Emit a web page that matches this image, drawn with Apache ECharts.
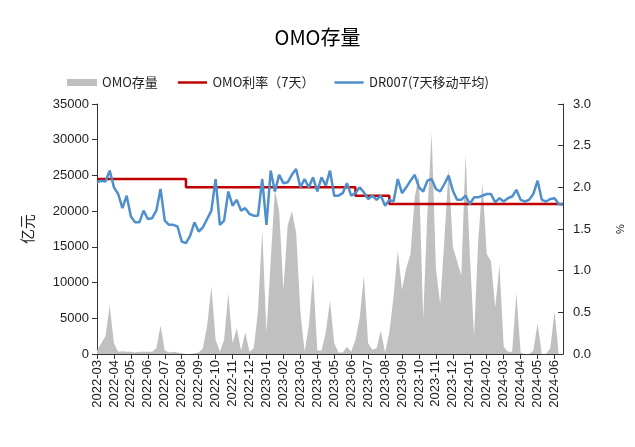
<!DOCTYPE html>
<html>
<head>
<meta charset="utf-8">
<script src="https://cdn.jsdelivr.net/npm/echarts@6/dist/echarts.min.js"></script>
<style>
  html, body { margin: 0; padding: 0; background: #fff; }
  #chart { width: 635px; height: 447px; }
</style>
</head>
<body>
<div id="chart"></div>
<script>
// 月份刻度标签（每月4个点，最后一个月只到月中）
const months = ['2022-03', '2022-04', '2022-05', '2022-06', '2022-07', '2022-08', '2022-09',
  '2022-10', '2022-11', '2022-12', '2023-01', '2023-02', '2023-03', '2023-04', '2023-05',
  '2023-06', '2023-07', '2023-08', '2023-09', '2023-10', '2023-11', '2023-12', '2024-01',
  '2024-02', '2024-03', '2024-04', '2024-05', '2024-06'];

// OMO存量（亿元）
const omoStock = [
  500, 1500, 2500, 6800, 1500, 300, 400, 300,
  300, 200, 300, 300, 300, 300, 800, 4000,
  500, 200, 300, 200, 100, 0, 0, 100,
  200, 800, 4000, 9500, 2000, 300, 2000, 8500,
  1500, 3600, 500, 3000, 300, 800, 6000, 17400,
  3000, 13000, 23000, 20000, 9000, 18000, 20000, 17000,
  6000, 300, 4000, 11300, 500, 500, 3000, 7500,
  1500, 200, 200, 1000, 300, 2000, 5000, 11000,
  1500, 600, 800, 3300, 200, 3000, 8000, 14500,
  9000, 12000, 14000, 22000, 25000, 5000, 20000, 31000,
  12000, 7000, 16000, 26000, 15000, 13000, 11000, 28000,
  14000, 2500, 16000, 24000, 14000, 13000, 6500, 12500,
  1000, 300, 300, 8500, 200, 0, 0, 500,
  4300, 0, 0, 800, 6000, 0, 0
];

// DR007 7天移动平均（%）
const dr007 = [
  2.06, 2.08, 2.07, 2.2, 2.0, 1.92, 1.75, 1.9,
  1.65, 1.58, 1.58, 1.72, 1.62, 1.63, 1.72, 1.98,
  1.6, 1.55, 1.55, 1.53, 1.35, 1.33, 1.42, 1.58,
  1.47, 1.52, 1.62, 1.72, 2.1, 1.55, 1.6, 1.95,
  1.78, 1.85, 1.72, 1.75, 1.68, 1.66, 1.66, 2.1,
  1.55, 2.2, 1.95, 2.15, 2.05, 2.06, 2.15, 2.22,
  2.0, 2.1, 2.0, 2.12, 1.95, 2.12, 2.02, 2.2,
  1.9, 1.9, 1.93, 2.05, 1.9, 1.93, 2.0, 1.94,
  1.86, 1.9, 1.85, 1.9, 1.78, 1.85, 1.83, 2.1,
  1.93, 2.0, 2.08, 2.15, 2.0, 1.95, 2.08, 2.1,
  1.98, 1.95, 2.04, 2.14, 1.96, 1.85, 1.85, 1.9,
  1.8, 1.88, 1.88, 1.9, 1.92, 1.92, 1.82, 1.87,
  1.83, 1.87, 1.89, 1.97, 1.85, 1.83, 1.85, 1.92,
  2.08, 1.85, 1.83, 1.86, 1.87, 1.8, 1.79
];

// OMO利率（7天）：[起始点序号, 利率]
const omoRateSteps = [[0, 2.1], [21, 2.0], [61, 1.9], [69, 1.8]];

const cats = [];
months.forEach((m, mi) => {
  const n = mi === months.length - 1 ? 3 : 4;
  for (let k = 0; k < n; k++) cats.push(m + '|' + k);
});

const omoRate = cats.map((c, i) => {
  let v = omoRateSteps[0][1];
  omoRateSteps.forEach(s => { if (i >= s[0]) v = s[1]; });
  return v;
});

// 图例里的线段图标（上下加极细边界，保持线宽）
const lineIcon = 'path://M0,0h30v0.01h-30z M0,2.4h30v2.4h-30z M0,7.19h30v0.01h-30z';

const chart = echarts.init(document.getElementById('chart'));

const option = {
  animation: false,
  textStyle: { fontFamily: '"Liberation Sans", "Noto Sans CJK SC", sans-serif' },
  title: {
    text: 'OMO存量',
    left: 'center',
    top: 22,
    textStyle: { fontSize: 20, fontWeight: 'normal', color: '#000', fontFamily: '"Noto Sans CJK SC", sans-serif' }
  },
  legend: {
    top: 71,
    left: 62,
    itemWidth: 30,
    itemHeight: 7,
    itemGap: 20,
    textStyle: { fontSize: 13, color: '#222', fontFamily: '"Noto Sans CJK SC", sans-serif' },
    data: [
      { name: 'OMO存量', icon: 'rect' },
      { name: 'OMO利率（7天）', icon: lineIcon },
      { name: 'DR007(7天移动平均)', icon: lineIcon }
    ]
  },
  grid: { left: 97, right: 72, top: 104, bottom: 93 },
  xAxis: {
    type: 'category',
    data: cats,
    boundaryGap: false,
    axisLine: { lineStyle: { color: '#333', width: 1 } },
    axisTick: { interval: i => i % 4 === 0, length: 5, lineStyle: { color: '#333' } },
    axisLabel: {
      interval: i => i % 4 === 0,
      rotate: 90,
      fontSize: 13,
      color: '#222',
      margin: 6,
      formatter: v => v.split('|')[0]
    },
    splitLine: { show: false }
  },
  yAxis: [
    {
      type: 'value',
      name: '亿元',
      nameLocation: 'middle',
      nameGap: 62,
      nameTextStyle: { fontSize: 15, color: '#222', fontFamily: '"Noto Sans CJK SC", sans-serif' },
      min: 0, max: 35000, interval: 5000,
      axisLine: { show: true, lineStyle: { color: '#333' } },
      axisTick: { show: true, length: 5, lineStyle: { color: '#333' } },
      axisLabel: { fontSize: 13, color: '#222', margin: 8, formatter: v => String(v) },
      splitLine: { show: false }
    },
    {
      type: 'value',
      name: '%',
      nameLocation: 'middle',
      nameGap: 52,
      nameRotate: 90,
      nameTextStyle: { fontSize: 11, color: '#222' },
      min: 0, max: 3, interval: 0.5,
      position: 'right',
      axisLine: { show: true, lineStyle: { color: '#333' } },
      axisTick: { show: true, inside: true, length: 5, lineStyle: { color: '#333' } },
      axisLabel: { fontSize: 13, color: '#222', margin: 10, formatter: v => v.toFixed(1) },
      splitLine: { show: false }
    }
  ],
  series: [
    {
      name: 'OMO存量',
      type: 'line',
      yAxisIndex: 0,
      data: omoStock,
      symbol: 'none',
      lineStyle: { width: 0 },
      itemStyle: { color: '#bfbfbf' },
      areaStyle: { color: '#c0c0c0', opacity: 1 }
    },
    {
      name: 'OMO利率（7天）',
      type: 'line',
      yAxisIndex: 1,
      data: omoRate,
      step: 'end',
      symbol: 'none',
      itemStyle: { color: '#c00000' },
      lineStyle: { color: '#c00000', width: 2.5 }
    },
    {
      name: 'DR007(7天移动平均)',
      type: 'line',
      yAxisIndex: 1,
      data: dr007,
      symbol: 'none',
      itemStyle: { color: '#4f8fcc' },
      lineStyle: { color: '#4f8fcc', width: 2.5 }
    }
  ]
};

chart.setOption(option);
</script>
</body>
</html>
